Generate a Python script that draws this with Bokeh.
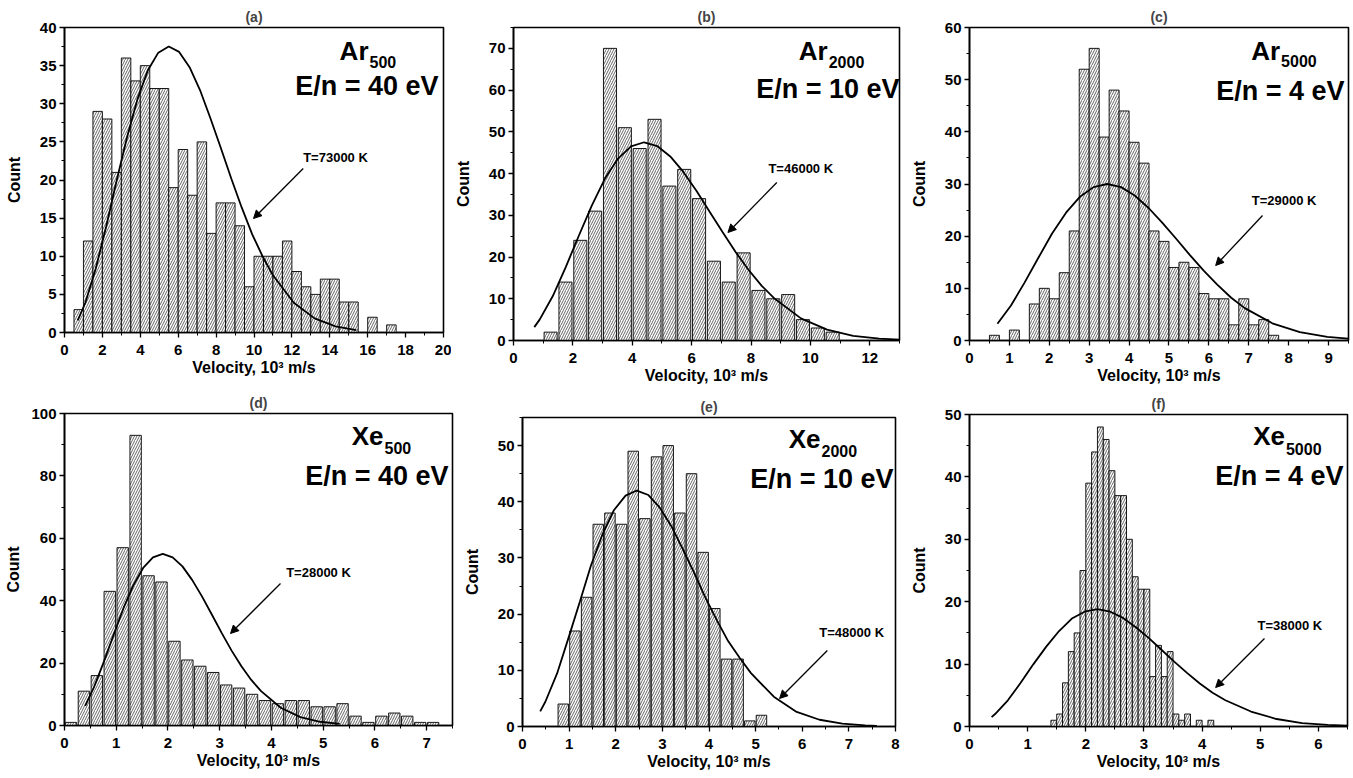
import numpy as np
from bokeh.plotting import figure
from bokeh.layouts import column, row
from bokeh.models import Label, Arrow, NormalHead, FixedTicker, Range1d, Title
from bokeh.embed import file_html
from bokeh.resources import INLINE

# ------------------------------------------------------------------ data
# (a) Ar500, E/n = 40 eV
a_bin_start, a_bin_width = 0.5, 0.5
a_counts = [3, 12, 29, 28, 21, 36, 33, 35, 32, 32, 19, 24, 18, 25, 13, 17, 17,
            14, 6, 10, 10, 10, 12, 8, 6, 5, 7, 7, 4, 4, 0, 2, 0, 1]
a_fit_v = [0.7, 1.1, 1.65, 2.2, 2.75, 3.3, 3.85, 4.4, 4.95, 5.5, 6.05, 6.6, 7.15,
           7.7, 8.25, 8.8, 9.35, 9.9, 10.45, 11.0, 12.1, 13.2, 14.3, 15.4]
a_fit_n = [1.6, 3.9, 8.4, 13.9, 19.9, 25.6, 30.6, 34.4, 36.7, 37.5, 36.8, 34.8, 31.8,
           28.1, 24.2, 20.2, 16.4, 12.9, 10.0, 7.5, 3.9, 1.85, 0.8, 0.32]
a_xticks = [0, 2, 4, 6, 8, 10, 12, 14, 16, 18, 20]
a_yticks = [0, 5, 10, 15, 20, 25, 30, 35, 40]

# (b) Ar2000, E/n = 10 eV
b_bin_start, b_bin_width = 1.0, 0.5
b_counts = [2, 14, 24, 31, 70, 51, 46, 53, 37, 41, 34, 19, 14, 21, 12, 10, 11, 5, 3, 2]
b_fit_v = [0.7, 0.88, 1.32, 1.76, 2.2, 2.64, 3.08, 3.52, 3.96, 4.4, 4.84, 5.28, 5.72,
           6.16, 6.6, 7.04, 7.48, 7.92, 8.36, 8.8, 9.68, 10.56, 11.44, 12.32, 13.0]
b_fit_n = [3.2, 5.0, 10.6, 17.6, 25.1, 32.4, 38.8, 43.6, 46.5, 47.5, 46.6, 44.1, 40.4,
           35.9, 30.9, 26.0, 21.2, 16.9, 13.1, 10.0, 5.3, 2.6, 1.1, 0.45, 0.2]
b_xticks = [0, 2, 4, 6, 8, 10, 12]
b_yticks = [0, 10, 20, 30, 40, 50, 60, 70]

# (c) Ar5000, E/n = 4 eV
c_bin_start, c_bin_width = 0.5, 0.25
c_counts = [1, 0, 2, 0, 7, 10, 8, 13, 21, 52, 56, 39, 48, 44, 38, 34, 21, 19, 14, 15,
            14, 9, 8, 8, 3, 8, 3, 4, 1]
c_fit_v = [0.7, 1.04, 1.38, 1.73, 2.07, 2.42, 2.76, 3.11, 3.45, 3.8, 4.14, 4.49, 4.83,
           5.18, 5.52, 5.87, 6.21, 6.56, 6.9, 7.59, 8.28, 8.97, 9.49]
c_fit_n = [3.2, 6.7, 11.1, 15.9, 20.5, 24.5, 27.5, 29.4, 30.0, 29.4, 27.8, 25.4, 22.6,
           19.5, 16.4, 13.4, 10.7, 8.2, 6.2, 3.3, 1.6, 0.7, 0.35]
c_xticks = [0, 1, 2, 3, 4, 5, 6, 7, 8, 9]
c_yticks = [0, 10, 20, 30, 40, 50, 60]

# (d) Xe500, E/n = 40 eV
d_bin_start, d_bin_width = 0.0, 0.25
d_counts = [1, 11, 16, 43, 57, 93, 48, 46, 27, 21, 19, 17, 13, 12, 10, 8, 7, 8, 8, 6,
            6, 7, 3, 1, 3, 4, 3, 1, 1]
d_fit_v = [0.4, 0.57, 0.76, 0.95, 1.14, 1.33, 1.52, 1.71, 1.9, 2.09, 2.28, 2.47, 2.66,
           2.85, 3.04, 3.23, 3.42, 3.61, 3.8, 4.18, 4.56, 4.94, 5.32]
d_fit_n = [6.3, 12.3, 20.4, 29.1, 37.6, 44.9, 50.5, 53.9, 55.0, 53.9, 51.0, 46.6, 41.3,
           35.5, 29.6, 24.0, 19.0, 14.6, 11.0, 5.7, 2.7, 1.2, 0.5]
d_xticks = [0, 1, 2, 3, 4, 5, 6, 7]
d_yticks = [0, 20, 40, 60, 80, 100]

# (e) Xe2000, E/n = 10 eV
e_bin_start, e_bin_width = 0.75, 0.25
e_counts = [4, 17, 23, 36, 38, 36, 49, 37, 48, 50, 38, 45, 31, 21, 12, 12, 1, 2]
e_fit_v = [0.38, 0.49, 0.74, 0.98, 1.23, 1.47, 1.72, 1.96, 2.21, 2.45, 2.7, 2.94, 3.19,
           3.43, 3.68, 3.92, 4.17, 4.41, 4.66, 4.9, 5.39, 5.88, 6.37, 6.86, 7.35, 7.6]
e_fit_n = [2.7, 4.4, 9.4, 15.6, 22.2, 28.7, 34.3, 38.5, 41.1, 42.0, 41.2, 39.0, 35.7,
           31.7, 27.4, 23.0, 18.9, 15.2, 12.2, 9.5, 5.3, 2.6, 1.2, 0.5, 0.2, 0.1]
e_xticks = [0, 1, 2, 3, 4, 5, 6, 7, 8]
e_yticks = [0, 10, 20, 30, 40, 50]

# (f) Xe5000, E/n = 4 eV
f_bin_start, f_bin_width = 1.4, 0.1
f_counts = [1, 2, 7, 12, 15, 25, 39, 44, 48, 46, 41, 37, 37, 30, 24, 22, 22, 8, 13, 8,
            12, 2, 1, 2, 0, 1, 0, 1]
f_fit_v = [0.38, 0.44, 0.66, 0.88, 1.1, 1.32, 1.54, 1.76, 1.98, 2.2, 2.42, 2.64, 2.86,
           3.08, 3.3, 3.52, 3.74, 3.96, 4.18, 4.4, 4.84, 5.28, 5.72, 6.16, 6.5]
f_fit_n = [1.5, 2.0, 4.2, 7.0, 10.0, 12.8, 15.3, 17.3, 18.4, 18.8, 18.4, 17.4, 15.9,
           14.2, 12.3, 10.4, 8.6, 6.9, 5.4, 4.2, 2.4, 1.2, 0.55, 0.25, 0.12]
f_xticks = [0, 1, 2, 3, 4, 5, 6]
f_yticks = [0, 10, 20, 30, 40, 50]

# ------------------------------------------------------------------ styling / layout
FONT = "Liberation Sans"
XLABEL = "Velocity, 10\u00b3 m/s"
YLABEL = "Count"

specs = [
    dict(title="(a)", species="Ar", sub="500", energy="E/n = 40 eV", temp="T=73000 K",
         counts=a_counts, start=a_bin_start, w=a_bin_width, gap=0.0,
         fv=a_fit_v, fn=a_fit_n, xr=(0, 20), yr=(0, 40), xt=a_xticks, yt=a_yticks,
         xminor=1.0, yminor=2.5,
         W=451, H=390, bl=64, br=8, bt=27, bb=58, ylab_standoff=14,
         box=(64, 27, 443, 332),
         sp=(368, 50, 61), en=(438, 85), tt=(335, 157), ar=(302.7, 168, 253, 218)),
    dict(title="(b)", species="Ar", sub="2000", energy="E/n = 10 eV", temp="T=46000 K",
         counts=b_counts, start=b_bin_start, w=b_bin_width, gap=0.12,
         fv=b_fit_v, fn=b_fit_n, xr=(0, 13), yr=(0, 75), xt=b_xticks, yt=b_yticks,
         xminor=1.0, yminor=5.0,
         W=456, H=390, bl=61, br=8, bt=27, bb=50, ylab_standoff=14,
         box=(512, 27, 899, 340),
         sp=(827, 50, 61), en=(899, 88), tt=(800, 168), ar=(776, 182, 727, 232)),
    dict(title="(c)", species="Ar", sub="5000", energy="E/n = 4 eV", temp="T=29000 K",
         counts=c_counts, start=c_bin_start, w=c_bin_width, gap=0.0,
         fv=c_fit_v, fn=c_fit_n, xr=(0, 9.5), yr=(0, 60), xt=c_xticks, yt=c_yticks,
         xminor=0.5, yminor=5.0,
         W=444, H=390, bl=53, br=3, bt=27, bb=50, ylab_standoff=14,
         box=(960, 27, 1348, 340),
         sp=(1278, 50, 60), en=(1344, 90), tt=(1282, 200), ar=(1260, 215, 1212, 265)),
    dict(title="(d)", species="Xe", sub="500", energy="E/n = 40 eV", temp="T=28000 K",
         counts=d_counts, start=d_bin_start, w=d_bin_width, gap=0.12,
         fv=d_fit_v, fn=d_fit_n, xr=(0, 7.5), yr=(0, 100), xt=d_xticks, yt=d_yticks,
         xminor=0.5, yminor=10.0,
         W=460, H=386, bl=64, br=8, bt=23, bb=51, ylab_standoff=6,
         box=(64, 413, 452, 725),
         sp=(383, 435, 447), en=(448, 475), tt=(318, 572), ar=(280, 583, 230, 633)),
    dict(title="(e)", species="Xe", sub="2000", energy="E/n = 10 eV", temp="T=48000 K",
         counts=e_counts, start=e_bin_start, w=e_bin_width, gap=0.1,
         fv=e_fit_v, fn=e_fit_n, xr=(0, 8), yr=(0, 55), xt=e_xticks, yt=e_yticks,
         xminor=0.5, yminor=5.0,
         W=447, H=386, bl=52, br=12, bt=27, bb=50, ylab_standoff=14,
         box=(512, 417, 895, 726),
         sp=(818, 438, 450), en=(893, 478), tt=(850, 632), ar=(825, 650, 776, 698)),
    dict(title="(f)", species="Xe", sub="5000", energy="E/n = 4 eV", temp="T=38000 K",
         counts=f_counts, start=f_bin_start, w=f_bin_width, gap=0.0,
         fv=f_fit_v, fn=f_fit_n, xr=(0, 6.5), yr=(0, 50), xt=f_xticks, yt=f_yticks,
         xminor=0.5, yminor=5.0,
         W=443, H=386, bl=53, br=3, bt=24, bb=50, ylab_standoff=14,
         box=(960, 414, 1347, 726),
         sp=(1283, 435, 448), en=(1343, 475), tt=(1288, 625), ar=(1262, 638, 1212, 687)),
]


def to_data(s, px, py):
    x0, y0, x1, y1 = s["box"]
    xa, xb = s["xr"]
    ya, yb = s["yr"]
    return (xa + (px - x0) / (x1 - x0) * (xb - xa),
            ya + (y1 - py) / (y1 - y0) * (yb - ya))


def minor_ticks(lo, hi, step, major):
    vals = np.arange(lo, hi + 1e-9, step)
    return [float(v) for v in vals if all(abs(v - m) > 1e-9 for m in major)]


def build(s):
    p = figure(width=s["W"], height=s["H"], x_range=Range1d(*s["xr"]), y_range=Range1d(*s["yr"]),
               min_border_left=s["bl"], min_border_right=s["br"],
               min_border_top=s["bt"], min_border_bottom=s["bb"],
               output_backend="svg", toolbar_location=None,
               title=Title(text=s["title"], align="center", text_font=FONT,
                           text_font_size="14px", text_font_style="bold", standoff=5))
    p.grid.visible = False
    p.outline_line_color = "black"
    p.outline_line_width = 1.6
    p.outline_line_alpha = 1.0

    for ax in (p.xaxis[0], p.yaxis[0]):
        ax.axis_line_color = "black"
        ax.axis_line_width = 1.6
        ax.major_tick_in = 0
        ax.major_tick_out = 5
        ax.minor_tick_in = 0
        ax.minor_tick_out = 3
        ax.major_tick_line_width = 1.3
        ax.minor_tick_line_width = 1.0
        ax.major_label_text_font = FONT
        ax.major_label_text_font_size = "15px"
        ax.major_label_text_font_style = "bold"
        ax.major_label_text_color = "black"
        ax.axis_label_text_font = FONT
        ax.axis_label_text_font_size = "16px"
        ax.axis_label_text_font_style = "bold"
        ax.axis_label_text_color = "black"

    p.xaxis.ticker = FixedTicker(ticks=s["xt"], minor_ticks=minor_ticks(s["xr"][0], s["xr"][1], s["xminor"], s["xt"]))
    p.yaxis.ticker = FixedTicker(ticks=s["yt"], minor_ticks=minor_ticks(s["yr"][0], s["yr"][1], s["yminor"], s["yt"]))
    p.xaxis.axis_label = XLABEL
    p.yaxis.axis_label = YLABEL
    p.xaxis.major_label_standoff = 7
    p.xaxis.axis_label_standoff = 1
    p.yaxis.major_label_standoff = 3
    p.yaxis.axis_label_standoff = s["ylab_standoff"]

    # histogram bars (hatched)
    counts = np.array(s["counts"], dtype=float)
    lefts = s["start"] + s["w"] * np.arange(len(counts))
    keep = counts > 0
    inset = s["w"] * s["gap"] / 2
    p.quad(left=lefts[keep] + inset, right=lefts[keep] + s["w"] - inset,
           bottom=0, top=counts[keep],
           fill_color="white", line_color="black", line_width=0.9,
           hatch_pattern="/", hatch_color="#333333", hatch_scale=5, hatch_weight=0.75)

    # Maxwellian fit curve
    p.line(s["fv"], s["fn"], line_color="black", line_width=1.8)

    # species label with subscript
    sx, sy, suby = s["sp"]
    x, y = to_data(s, sx, sy)
    p.add_layout(Label(x=x, y=y, text=s["species"], text_align="right", text_baseline="middle",
                       text_font=FONT, text_font_size="26px", text_font_style="bold", text_color="black"))
    x, y = to_data(s, sx + 1, suby)
    p.add_layout(Label(x=x, y=y, text=s["sub"], text_align="left", text_baseline="middle",
                       text_font=FONT, text_font_size="16px", text_font_style="bold", text_color="black"))
    ex, ey = s["en"]
    x, y = to_data(s, ex, ey)
    p.add_layout(Label(x=x, y=y, text=s["energy"], text_align="right", text_baseline="middle",
                       text_font=FONT, text_font_size="27px", text_font_style="bold", text_color="black"))
    tx, ty = s["tt"]
    x, y = to_data(s, tx, ty)
    p.add_layout(Label(x=x, y=y, text=s["temp"], text_align="center", text_baseline="middle",
                       text_font=FONT, text_font_size="13px", text_font_style="bold", text_color="black"))
    ax0, ay0, ax1, ay1 = s["ar"]
    xs, ys = to_data(s, ax0, ay0)
    xe, ye = to_data(s, ax1, ay1)
    p.add_layout(Arrow(end=NormalHead(size=8, line_color="black", fill_color="black", line_width=1),
                       x_start=xs, y_start=ys, x_end=xe, y_end=ye,
                       line_color="black", line_width=1.3))
    return p


figs = [build(s) for s in specs]
# wrap each figure on its own so that frames are not aligned across a row
cells = [column(f, spacing=0) for f in figs]
layout = column(row(*cells[:3], spacing=0), row(*cells[3:], spacing=0), spacing=0)

open("out.html", "w").write(file_html(layout, INLINE))
